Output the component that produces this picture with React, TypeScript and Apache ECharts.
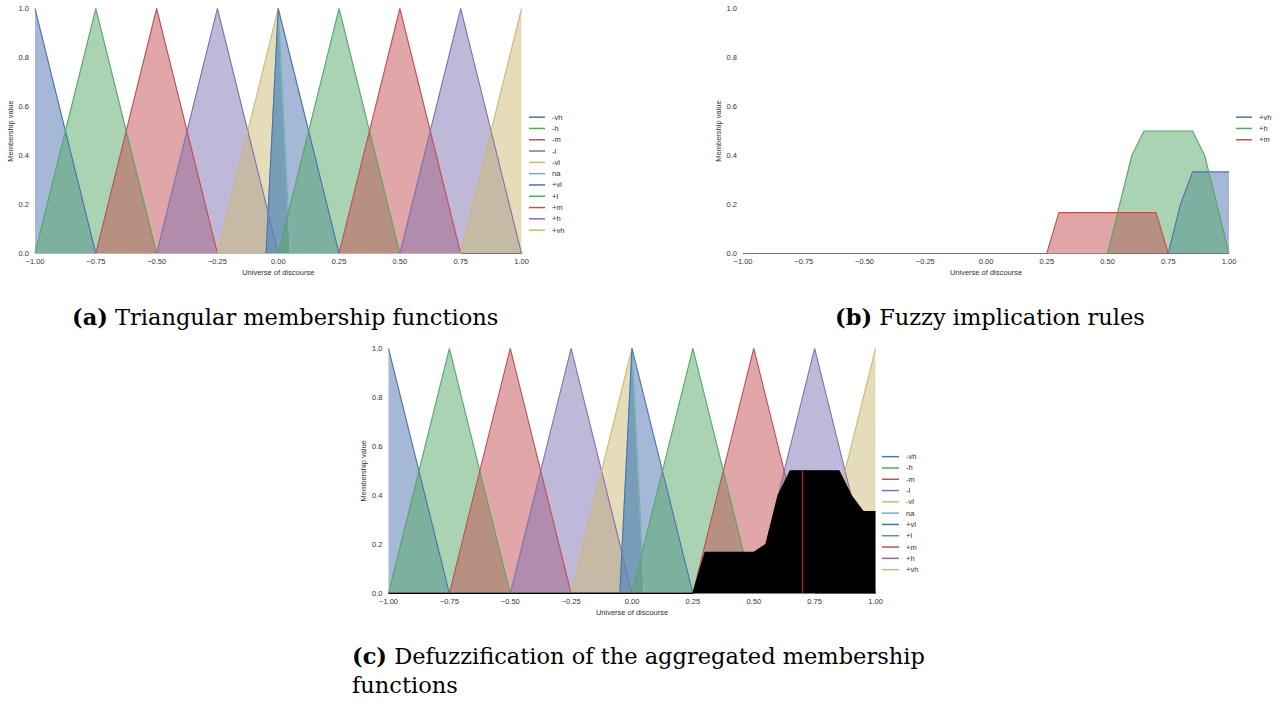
import React, { useEffect, useRef } from "react";
import * as echarts from "echarts";

// ---------- data ----------
const mfNames = ["-vh", "-h", "-m", "-l", "-vl", "na", "+vl", "+l", "+m", "+h", "+vh"];
const mfColors = ["#4C72B0", "#55A868", "#C44E52", "#8172B2", "#CCB974", "#64B5CD", "#4C72B0", "#55A868", "#C44E52", "#8172B2", "#CCB974"];
const mfPoints: number[][][] = [
  [[-1, 1], [-0.75, 0], [1, 0]],
  [[-1, 0], [-0.75, 1], [-0.5, 0], [1, 0]],
  [[-1, 0], [-0.75, 0], [-0.5, 1], [-0.25, 0], [1, 0]],
  [[-1, 0], [-0.5, 0], [-0.25, 1], [0, 0], [1, 0]],
  [[-1, 0], [-0.25, 0], [0, 1], [0.05, 0], [1, 0]],
  [[-1, 0], [-0.05, 0], [0, 1], [0.05, 0], [1, 0]],
  [[-1, 0], [-0.05, 0], [0, 1], [0.25, 0], [1, 0]],
  [[-1, 0], [0, 0], [0.25, 1], [0.5, 0], [1, 0]],
  [[-1, 0], [0.25, 0], [0.5, 1], [0.75, 0], [1, 0]],
  [[-1, 0], [0.5, 0], [0.75, 1], [1, 0]],
  [[-1, 0], [0.75, 0], [1, 1]],
];

const ruleNames = ["+vh", "+h", "+m"];
const ruleColors = ["#4C72B0", "#55A868", "#C44E52"];
const rulePoints: number[][][] = [
  [[-1, 0], [0.75, 0], [0.8, 0.2], [0.85, 0.333], [1, 0.333]],
  [[-1, 0], [0.5, 0], [0.6, 0.4], [0.65, 0.5], [0.85, 0.5], [0.9, 0.4], [1, 0]],
  [[-1, 0], [0.25, 0], [0.3, 0.167], [0.7, 0.167], [0.75, 0], [1, 0]],
];

const aggregated: number[][] = [
  [-1, 0], [0.25, 0], [0.3, 0.167], [0.5, 0.167], [0.55, 0.2], [0.6, 0.4],
  [0.65, 0.5], [0.85, 0.5], [0.9, 0.4], [0.95, 0.333], [1, 0.333],
];
const centroid: number[][] = [[0.7, 0], [0.7, 0.5]];

const xMin = -1;
const xMax = 1;
const xStep = 0.25;
const yStep = 0.2;

const captions = [
  { tag: "(a)", text: " Triangular membership functions" },
  { tag: "(b)", text: " Fuzzy implication rules" },
  { tag: "(c)", text: " Defuzzification of the aggregated membership" },
  { tag: "", text: "functions" },
];

// ---------- helpers ----------
const SANS = "'Liberation Sans', Arial, sans-serif";
const SERIF = "'DejaVu Serif', 'Liberation Serif', serif";
const tickColor = "#333";

const fmtX = (v: number) => {
  const s = Math.abs(v).toFixed(2);
  return v < -1e-9 ? "\u2212" + s : s;
};

function axesFor(i: number) {
  const x = {
    type: "value",
    gridIndex: i,
    min: xMin,
    max: xMax,
    interval: xStep,
    axisLine: { show: false },
    axisTick: { show: false },
    splitLine: { show: false },
    axisLabel: { formatter: fmtX, fontSize: 7.5, color: tickColor, margin: 4, fontFamily: SANS },
    name: "Universe of discourse",
    nameLocation: "middle",
    nameGap: 15,
    nameTextStyle: { fontSize: 7.5, color: tickColor, fontFamily: SANS },
  };
  const y = {
    type: "value",
    gridIndex: i,
    min: 0,
    max: 1,
    interval: yStep,
    axisLine: { show: false },
    axisTick: { show: false },
    splitLine: { show: false },
    axisLabel: { formatter: (v: number) => v.toFixed(1), fontSize: 7.5, color: tickColor, margin: 6, fontFamily: SANS },
    name: "Membership value",
    nameLocation: "middle",
    nameGap: 21,
    nameTextStyle: { fontSize: 7.5, color: tickColor, fontFamily: SANS },
  };
  return { x, y };
}

function lineSeries(name: string, color: string, data: number[][], idx: number, z: number, fillOpacity = 0.5, width = 1.1) {
  return {
    type: "line",
    name,
    xAxisIndex: idx,
    yAxisIndex: idx,
    data,
    color,
    z,
    showSymbol: false,
    symbol: "none",
    clip: false,
    lineStyle: { color, width },
    areaStyle: fillOpacity > 0 ? { color, opacity: fillOpacity, origin: 0 } : undefined,
    emphasis: { disabled: true },
  };
}

function legendFor(prefix: string, names: string[], colors: string[], left: number, top: number, w: number) {
  return {
    orient: "vertical",
    left,
    top,
    itemWidth: w,
    itemHeight: 1.5,
    itemGap: 0,
    icon: "rect",
    selectedMode: false,
    data: names.map((n, k) => ({ name: prefix + n, itemStyle: { color: colors[k] } })),
    formatter: (n: string) => n.slice(prefix.length),
    textStyle: { fontSize: 7.5, color: tickColor, fontFamily: SANS, lineHeight: 11.3, padding: [0, 0, 0, 2] },
    padding: 0,
  };
}

export default function App() {
  const ref = useRef<HTMLDivElement>(null);
  useEffect(() => {
    if (!ref.current) return;
    const chart = echarts.init(ref.current, undefined, { renderer: "svg" });
    const a0 = axesFor(0);
    const a1 = axesFor(1);
    const a2 = axesFor(2);

    const series: any[] = [];
    mfNames.forEach((n, k) => series.push(lineSeries("a:" + n, mfColors[k], mfPoints[k], 0, 2)));
    ruleNames.forEach((n, k) => series.push(lineSeries("b:" + n, ruleColors[k], rulePoints[k], 1, 2)));
    mfNames.forEach((n, k) => series.push(lineSeries("c:" + n, mfColors[k], mfPoints[k], 2, 2)));
    series.push(lineSeries("aggregated", "#000000", aggregated, 2, 20, 1, 1.2));
    series.push(lineSeries("centroid", "#d0202a", centroid, 2, 30, 0, 1.1));

    const capSize = 22.5;
    const capY = (baseline: number) => baseline - 0.346 * capSize;
    const capText = (c: { tag: string; text: string }, x: number, base: number) => ({
      type: "text",
      x,
      y: capY(base),
      style: {
        text: c.tag ? "{b|" + c.tag + "}{n|" + c.text + "}" : "{n|" + c.text + "}",
        verticalAlign: "middle",
        align: "left",
        rich: {
          b: { fontFamily: SERIF, fontSize: capSize, fontWeight: "bold", fill: "#000", lineHeight: 26 },
          n: { fontFamily: SERIF, fontSize: capSize, fill: "#000", lineHeight: 26 },
        },
      },
    });

    chart.setOption({
      animation: false,
      backgroundColor: "#ffffff",
      grid: [
        { left: 35, top: 8.5, width: 486.5, height: 245 },
        { left: 743, top: 8.5, width: 486, height: 245 },
        { left: 388.5, top: 348.3, width: 487, height: 245 },
      ],
      xAxis: [a0.x, a1.x, a2.x],
      yAxis: [a0.y, a1.y, a2.y],
      legend: [
        legendFor("a:", mfNames, mfColors, 529, 111.5, 16),
        legendFor("b:", ruleNames, ruleColors, 1236, 111.5, 16),
        legendFor("c:", mfNames, mfColors, 882, 451, 17),
      ],
      series,
      graphic: [
        capText(captions[0], 72, 325),
        capText(captions[1], 835, 325),
        capText(captions[2], 352, 664),
        capText(captions[3], 352, 693),
      ],
    });
    return () => chart.dispose();
  }, []);
  return (
    <div
      ref={ref}
      style={{ position: "absolute", left: 0, top: 0, width: 1287, height: 706, background: "#fff" }}
    />
  );
}
